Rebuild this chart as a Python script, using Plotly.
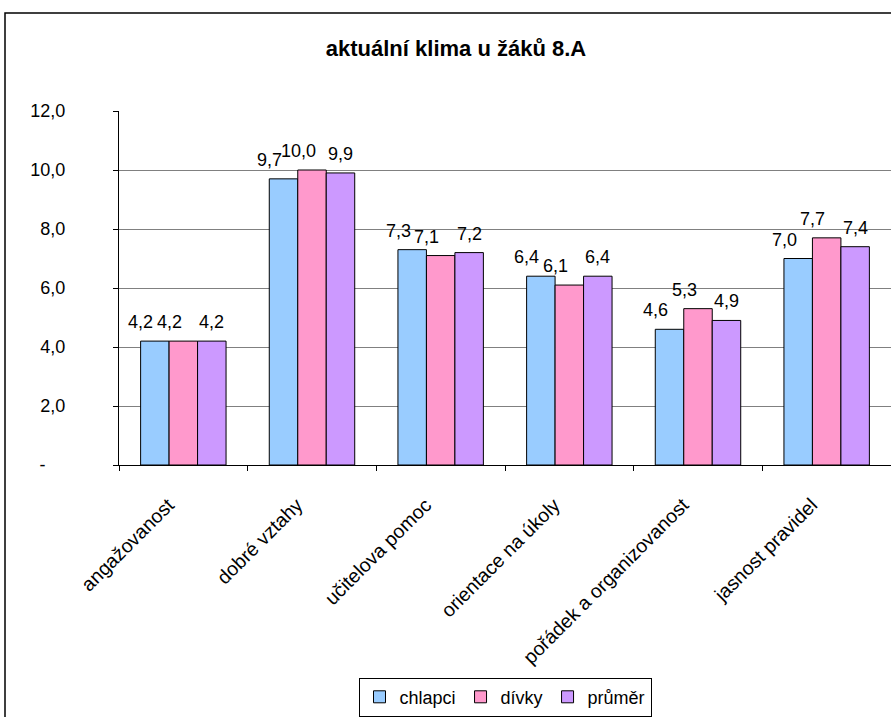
import plotly.graph_objects as go

# Climate scale scores for class 8.A
categories = ["angažovanost", "dobré vztahy", "učitelova pomoc",
              "orientace na úkoly", "pořádek a organizovanost", "jasnost pravidel"]
series_names = ["chlapci", "dívky", "průměr"]
chlapci = [4.2, 9.7, 7.3, 6.4, 4.6, 7.0]
divky = [4.2, 10.0, 7.1, 6.1, 5.3, 7.7]
prumer = [4.2, 9.9, 7.2, 6.4, 4.9, 7.4]
y_tickvals = [0, 2, 4, 6, 8, 10, 12]
y_ticktext = ["-\u00a0\u00a0\u00a0\u00a0", "2,0", "4,0", "6,0", "8,0", "10,0", "12,0"]

series_values = [chlapci, divky, prumer]
colors = ["#99CCFF", "#FF99CC", "#CC99FF"]
FONT = "Arial, Liberation Sans, sans-serif"

W, H = 891, 717
ML, MR, MT, MB = 119, 0, 111, 248
BARGAP = 0.336
cat_px = (W - ML - MR) / len(categories)
bar_px = cat_px * (1 - BARGAP) / len(series_names)
label_dx = [-14, -14, 0]


def fmt(v):
    return f"{v:.1f}".replace(".", ",")


fig = go.Figure()
for name, vals, col in zip(series_names, series_values, colors):
    fig.add_trace(go.Bar(
        name=name, x=categories, y=vals,
        marker=dict(color=col, line=dict(color="#000000", width=1)),
    ))

# value labels above each bar
annotations = []
for i, vals in enumerate(series_values):
    for cat, v in zip(categories, vals):
        annotations.append(dict(
            x=cat, y=v, xref="x", yref="y", text=fmt(v), showarrow=False,
            xshift=(i - 1) * bar_px + label_dx[i], yshift=19, yanchor="middle",
            font=dict(family=FONT, size=18, color="#000000"),
        ))

plot_h = H - MT - MB
plot_w = W - ML - MR
fig.update_layout(
    width=W, height=H,
    margin=dict(l=ML, r=MR, t=MT, b=MB),
    paper_bgcolor="white", plot_bgcolor="white",
    barmode="group", bargap=BARGAP, bargroupgap=0,
    font=dict(family=FONT, size=18, color="#000000"),
    title=dict(text="<b>aktuální klima u žáků 8.A</b>", x=456 / W, xanchor="center",
               y=1 - 48 / H, yanchor="middle", font=dict(family=FONT, size=22)),
    annotations=annotations,
    legend=dict(orientation="h", x=0.5, xanchor="center",
                y=(H - MB - 684) / plot_h, yanchor="top",
                bordercolor="#000000", borderwidth=1,
                font=dict(family=FONT, size=18), itemwidth=30,
                traceorder="normal"),
    shapes=[dict(type="rect", xref="paper", yref="paper",
                 x0=(5 - ML) / plot_w, x1=1.05,
                 y0=-1.0, y1=(H - MB - 12) / plot_h,
                 line=dict(color="#000000", width=1.5), layer="below")],
)
fig.update_yaxes(range=[0, 12], tickvals=y_tickvals, ticktext=y_ticktext,
                 showgrid=True, gridcolor="#808080", gridwidth=1,
                 showline=True, linecolor="#000000", linewidth=1,
                 ticks="outside", ticklen=5, tickcolor="#000000",
                 ticklabelstandoff=44, zeroline=False,
                 tickfont=dict(family=FONT, size=18))
fig.update_xaxes(showline=True, linecolor="#000000", linewidth=1,
                 ticks="outside", ticklen=5, tickcolor="#000000",
                 tickson="boundaries", tickangle=-45, ticklabelstandoff=20,
                 ticklabelshift=-15,
                 tickfont=dict(family=FONT, size=19.5))

fig.write_html("out.html")
